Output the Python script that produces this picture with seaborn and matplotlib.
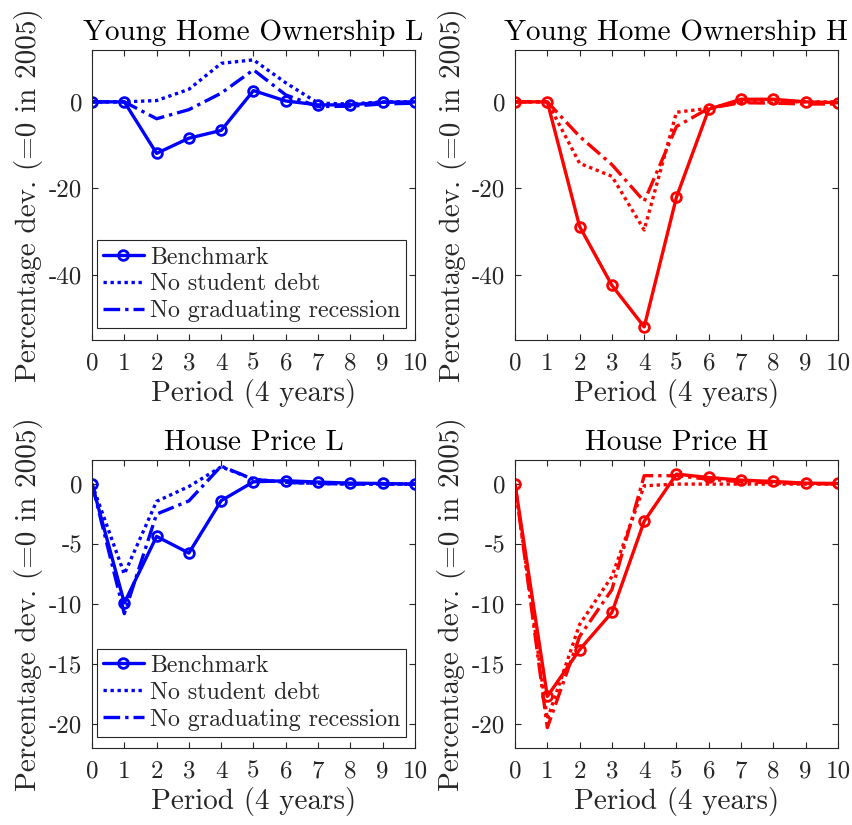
import numpy as np
import matplotlib
matplotlib.use("Agg")
import matplotlib.pyplot as plt
import seaborn as sns

# ---- data ----
periods = [0, 1, 2, 3, 4, 5, 6, 7, 8, 9, 10]

own_L_bench = [0, 0, -11.9, -8.4, -6.6, 2.6, 0.2, -0.7, -0.7, -0.1, 0]
own_L_nodebt = [0, 0, 0.3, 2.9, 8.9, 9.7, 4.4, -0.3, -0.5, 0, 0]
own_L_norec = [0, 0, -3.9, -1.8, 2.0, 7.4, 1.6, -1.1, -1.0, -0.5, -0.3]

own_H_bench = [0, 0, -28.8, -42.4, -52.0, -22.0, -1.7, 0.6, 0.6, 0, -0.2]
own_H_nodebt = [0, 0, -14.2, -17.2, -29.6, -2.4, -1.5, 0, 0, 0, 0]
own_H_norec = [0, 0, -8.0, -14.5, -23.0, -5.7, -1.5, -0.2, -0.3, -0.5, -0.5]

price_L_bench = [0, -9.9, -4.36, -5.75, -1.38, 0.19, 0.28, 0.17, 0.08, 0.05, 0]
price_L_nodebt = [0, -7.5, -1.44, -0.2, 1.44, 0.4, 0.15, 0.05, 0, 0, 0]
price_L_norec = [0, -10.8, -2.5, -1.4, 1.5, 0.4, 0.15, 0.05, 0, 0, 0]

price_H_bench = [0, -17.7, -13.8, -10.7, -3.1, 0.83, 0.55, 0.33, 0.22, 0.08, 0.05]
price_H_nodebt = [0, -19.6, -11.7, -7.7, -0.14, 0, 0, 0, 0, 0, 0]
price_H_norec = [0, -20.3, -12.7, -8.8, 0.7, 0.7, 0.4, 0.2, 0.1, 0.05, 0]

titles = ["Young Home Ownership L", "Young Home Ownership H",
          "House Price L", "House Price H"]
labels = ["Benchmark", "No student debt", "No graduating recession"]

# ---- style ----
sns.set_style("ticks")
plt.rcParams["font.family"] = ["cmr10", "DejaVu Serif"]
plt.rcParams["mathtext.fontset"] = "cm"
plt.rcParams["axes.formatter.use_mathtext"] = False
plt.rcParams["axes.unicode_minus"] = False

fig = plt.figure(figsize=(8.52, 8.25), dpi=100)

rects = [
    [0.108, 0.588, 0.379, 0.3515],
    [0.6045, 0.588, 0.379, 0.3515],
    [0.108, 0.0933, 0.379, 0.349],
    [0.6045, 0.0933, 0.379, 0.349],
]

panels = [
    (own_L_bench, own_L_nodebt, own_L_norec, "blue"),
    (own_H_bench, own_H_nodebt, own_H_norec, "red"),
    (price_L_bench, price_L_nodebt, price_L_norec, "blue"),
    (price_H_bench, price_H_nodebt, price_H_norec, "red"),
]

ylims = [(-55, 12), (-55, 12), (-22, 2), (-22, 2)]
yticks = [[-40, -20, 0], [-40, -20, 0],
          [-20, -15, -10, -5, 0], [-20, -15, -10, -5, 0]]

for i in range(4):
    ax = fig.add_axes(rects[i])
    bench, nodebt, norec, col = panels[i]
    show_leg = (col == "blue")

    sns.lineplot(x=periods, y=bench, ax=ax, color=col, linewidth=2.4,
                 marker="o", markersize=7, markerfacecolor="none",
                 markeredgecolor=col, markeredgewidth=2.0,
                 label=labels[0] if show_leg else None, legend=False)
    sns.lineplot(x=periods, y=nodebt, ax=ax, color=col, linewidth=2.4,
                 linestyle=(0, (1, 1.1)),
                 label=labels[1] if show_leg else None, legend=False)
    sns.lineplot(x=periods, y=norec, ax=ax, color=col, linewidth=2.4,
                 linestyle=(0, (5, 1.5, 1, 1.5)),
                 label=labels[2] if show_leg else None, legend=False)

    ax.set_xlim(0, 10)
    ax.set_ylim(*ylims[i])
    ax.set_xticks(periods)
    ax.set_yticks(yticks[i])
    ax.tick_params(direction="in", top=True, right=True, length=4,
                   width=0.8, colors="0.15", labelcolor="0.15",
                   labelsize=18)
    ax.tick_params(axis="x", pad=9)
    ax.tick_params(axis="y", pad=7)
    for sp in ax.spines.values():
        sp.set_visible(True)
        sp.set_color("0.15")
        sp.set_linewidth(0.8)

    ax.set_title(titles[i], fontsize=21, color="black", pad=7)
    ax.set_xlabel("Period (4 years)", fontsize=21, color="0.15", labelpad=3)
    ax.set_ylabel("Percentage dev. (=0 in 2005)", fontsize=21, color="0.15",
                  labelpad=4)

    if show_leg:
        leg = ax.legend(loc="lower left", bbox_to_anchor=(0.016, 0.04),
                        borderaxespad=0, fontsize=17.2, frameon=True,
                        fancybox=False, edgecolor="0.15", framealpha=1,
                        handlelength=1.7, handletextpad=0.25,
                        borderpad=0.25, labelspacing=0.2)
        leg.get_frame().set_linewidth(0.8)

fig.savefig("out.png", dpi=100)
